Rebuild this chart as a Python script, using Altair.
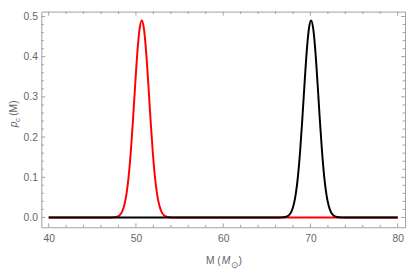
import altair as alt
import pandas as pd

# Curve values
red_x = [40, 47.17, 47.42, 47.67, 47.92, 48.17, 48.42, 48.67, 48.92, 49.17, 49.42,
         49.67, 49.92, 50.17, 50.42, 50.67, 50.92, 51.17, 51.42, 51.67, 51.92,
         52.17, 52.42, 52.67, 52.92, 53.17, 53.42, 53.67, 53.92, 54.17, 80]
red_y = [0, 0, 0.0003, 0.001, 0.0026, 0.0065, 0.0147, 0.0308, 0.0589, 0.103, 0.166,
         0.245, 0.332, 0.412, 0.469, 0.49, 0.469, 0.412, 0.332, 0.245, 0.166,
         0.103, 0.0589, 0.0308, 0.0147, 0.0065, 0.0026, 0.001, 0.0003, 0, 0]
black_x = [40, 66.57, 66.82, 67.07, 67.32, 67.57, 67.82, 68.07, 68.32, 68.57, 68.82,
           69.07, 69.32, 69.57, 69.82, 70.07, 70.32, 70.57, 70.82, 71.07, 71.32,
           71.57, 71.82, 72.07, 72.32, 72.57, 72.82, 73.07, 73.32, 73.57, 80]
black_y = [0, 0, 0.0003, 0.001, 0.0026, 0.0065, 0.0147, 0.0308, 0.0589, 0.103, 0.166,
           0.245, 0.332, 0.412, 0.469, 0.49, 0.469, 0.412, 0.332, 0.245, 0.166,
           0.103, 0.0589, 0.0308, 0.0147, 0.0065, 0.0026, 0.001, 0.0003, 0, 0]

x_major = [40, 50, 60, 70, 80]
x_minor = [42, 44, 46, 48, 52, 54, 56, 58, 62, 64, 66, 68, 72, 74, 76, 78]
y_major = [0.0, 0.1, 0.2, 0.3, 0.4, 0.5]
y_minor = [0.02, 0.04, 0.06, 0.08, 0.12, 0.14, 0.16, 0.18, 0.22, 0.24, 0.26, 0.28,
           0.32, 0.34, 0.36, 0.38, 0.42, 0.44, 0.46, 0.48]

W, H = 371, 220
GREY = "#a0a0a0"
TXT = "#666666"
FONT = "Liberation Sans"

xs = alt.Scale(domain=[39.16, 80.84], nice=False, zero=False)
ys = alt.Scale(domain=[-0.0244, 0.5122], nice=False, zero=False)

x_axis = alt.Axis(values=x_major, format="d", title="", tickSize=0, domain=False, grid=False,
                  labelColor=TXT, labelFont=FONT, labelFontSize=10.5, labelPadding=7)
y_axis = alt.Axis(values=y_major, format=".1f", title="", tickSize=0, domain=False, grid=False,
                  labelColor=TXT, labelFont=FONT, labelFontSize=10.5, labelPadding=4)

red_df = pd.DataFrame({"M": red_x, "p": red_y})
black_df = pd.DataFrame({"M": black_x, "p": black_y})

red = alt.Chart(red_df).mark_line(color="#ff0000", strokeWidth=2, interpolate="monotone").encode(
    x=alt.X("M:Q", scale=xs, axis=x_axis),
    y=alt.Y("p:Q", scale=ys, axis=y_axis),
)
black = alt.Chart(black_df).mark_line(color="#000000", strokeWidth=2, interpolate="monotone").encode(
    x=alt.X("M:Q", scale=xs, axis=x_axis),
    y=alt.Y("p:Q", scale=ys, axis=y_axis),
)

def yticks(vals, length):
    df = pd.DataFrame({"p": vals})
    left = alt.Chart(df).mark_rule(color=GREY, strokeWidth=1).encode(
        y=alt.Y("p:Q", scale=ys, axis=y_axis), x=alt.value(0), x2=alt.value(length))
    right = alt.Chart(df).mark_rule(color=GREY, strokeWidth=1).encode(
        y=alt.Y("p:Q", scale=ys, axis=y_axis), x=alt.value(W), x2=alt.value(W - length))
    return [left, right]

def xticks(vals, length):
    df = pd.DataFrame({"M": vals})
    bottom = alt.Chart(df).mark_rule(color=GREY, strokeWidth=1).encode(
        x=alt.X("M:Q", scale=xs, axis=x_axis), y=alt.value(H), y2=alt.value(H - length))
    top = alt.Chart(df).mark_rule(color=GREY, strokeWidth=1).encode(
        x=alt.X("M:Q", scale=xs, axis=x_axis), y=alt.value(0), y2=alt.value(length))
    return [bottom, top]

def txt(s, x, y, size=10.5, style="normal", angle=0, align="center"):
    return alt.Chart(pd.DataFrame({"t": [s]})).mark_text(
        font=FONT, fontSize=size, fontStyle=style, color=TXT, angle=angle,
        align=align, baseline="alphabetic").encode(
        text="t:N", x=alt.value(x), y=alt.value(y))

y_title_parts = ["p", "c", "(M)"]
x_title_parts = ["M (", "M", "\u2299", ")"]

titles = [
    txt(y_title_parts[0], -24.5, 115, style="italic", angle=270),
    txt(y_title_parts[1], -22, 110.5, size=8, angle=270),
    txt(y_title_parts[2], -24.5, 98.5, angle=270),
    txt(x_title_parts[0], 183, 257, align="right"),
    txt(x_title_parts[1], 184, 257, style="italic", align="left"),
    txt(x_title_parts[2], 193.5, 261.5, size=9, align="left"),
    txt(x_title_parts[3], 201, 257, align="left"),
]

layers = ([red, black] + yticks(y_major, 4) + yticks(y_minor, 2.5)
          + xticks(x_major, 4) + xticks(x_minor, 2.5) + titles)

chart = alt.layer(*layers).properties(
    width=W, height=H,
    autosize=alt.AutoSizeParams(type="none"),
    padding={"left": 34, "top": 1, "right": 2, "bottom": 45},
).configure_view(stroke=GREY, strokeWidth=1)

chart.save("out.html", embed_options={"renderer": "svg", "actions": False})
